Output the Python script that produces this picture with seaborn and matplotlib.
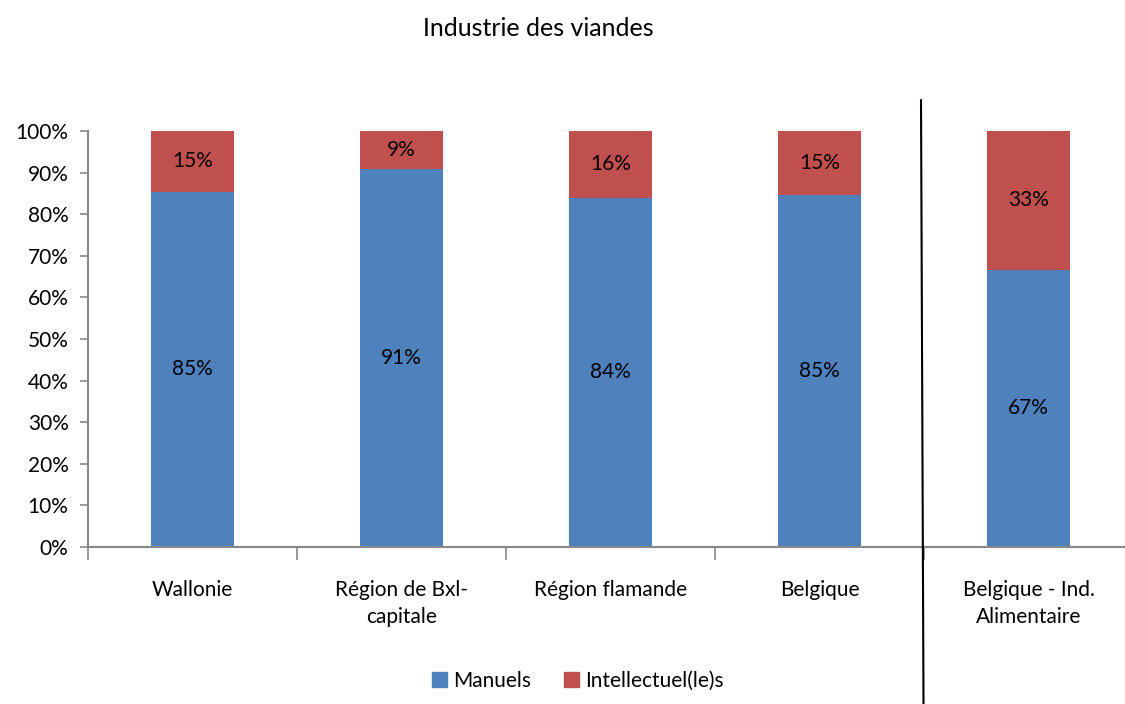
import matplotlib
matplotlib.use("Agg")
import matplotlib.pyplot as plt
import numpy as np
import pandas as pd
import seaborn as sns
from matplotlib.lines import Line2D
from matplotlib.patches import Patch

categories = ["Wallonie", "Région de Bxl-\ncapitale", "Région flamande", "Belgique",
              "Belgique - Ind.\nAlimentaire"]
manuels = [85.4, 90.8, 84.0, 84.7, 66.6]
intellectuels = [14.6, 9.2, 16.0, 15.3, 33.4]
yticks = [0, 10, 20, 30, 40, 50, 60, 70, 80, 90, 100]

BLUE = "#4F81BD"
RED = "#C0504D"
FS = 15

sns.set_style("white")
plt.rcParams["font.family"] = ["Lato", "DejaVu Sans"]
plt.rcParams["text.color"] = "black"

df = pd.DataFrame({"cat": categories, "man": manuels, "intel": intellectuels})
df["total"] = df["man"] + df["intel"]

fig = plt.figure(figsize=(11.25, 7.04), dpi=100)
ax = fig.add_axes([88 / 1125, 1 - 547 / 704, 1045 / 1125, 416 / 704])

sns.barplot(data=df, x="cat", y="total", color=RED, width=0.4, saturation=1,
            linewidth=0, ax=ax)
sns.barplot(data=df, x="cat", y="man", color=BLUE, width=0.4, saturation=1,
            linewidth=0, ax=ax)

for i, (m, it) in enumerate(zip(manuels, intellectuels)):
    ax.text(i, m / 2, f"{round(m)}%", ha="center", va="center", fontsize=FS)
    ax.text(i, m + it / 2, f"{round(it)}%", ha="center", va="center", fontsize=FS)

ax.set_xlim(-0.5, 4.5)
ax.set_ylim(0, 100)
ax.set_yticks(yticks)
ax.set_yticklabels([f"{v}%" for v in yticks], fontsize=FS)
ax.set_xticks(range(len(categories)))
ax.set_xticklabels(categories, fontsize=FS, linespacing=1.4, va="top")
ax.set_xticks(np.arange(-0.5, 4.6, 1), minor=True)
ax.tick_params(axis="x", which="major", bottom=False, length=0, pad=24,
               labelcolor="black")
ax.tick_params(axis="x", which="minor", bottom=True, length=9, color="#888888",
               width=1.2, direction="out")
ax.tick_params(axis="y", left=True, length=6, color="#888888", width=1.2,
               direction="out", pad=8, labelcolor="black")
ax.set_xlabel("")
ax.set_ylabel("")
for s in ["top", "right"]:
    ax.spines[s].set_visible(False)
for s in ["left", "bottom"]:
    ax.spines[s].set_color("#888888")
    ax.spines[s].set_linewidth(1.5)

fig.text(538 / 1125, 1 - 29 / 704, "Industrie des viandes", ha="center", va="center",
         fontsize=18)

fig.add_artist(Line2D([921 / 1125, 923.5 / 1125], [1 - 100 / 704, 0], color="black",
                      lw=1.5, transform=fig.transFigure))

handles = [Patch(color=BLUE, label="Manuels"), Patch(color=RED, label="Intellectuel(le)s")]
fig.legend(handles=handles, loc="center", bbox_to_anchor=(578 / 1125, 1 - 681 / 704),
           ncol=2, frameon=False, fontsize=FS, handlelength=0.7, handleheight=0.7,
           handletextpad=0.3, columnspacing=1.6)

fig.savefig("out.png", dpi=100)
